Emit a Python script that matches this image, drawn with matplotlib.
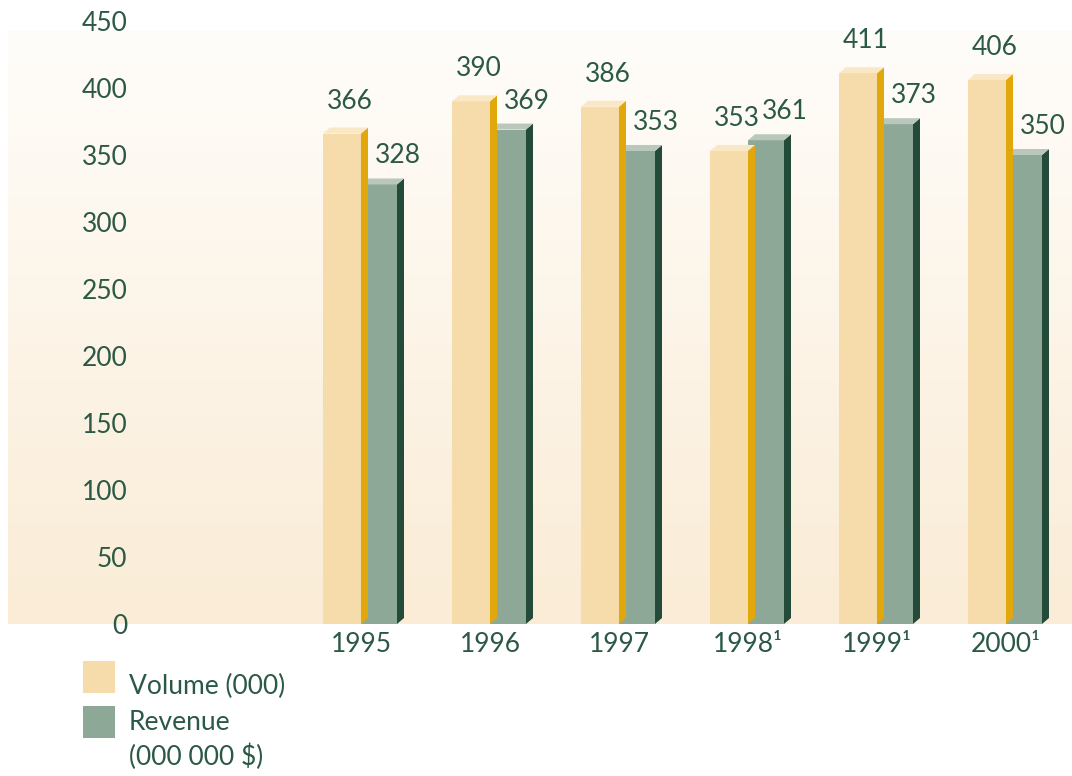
import numpy as np
import matplotlib.pyplot as plt
from matplotlib.patches import Polygon, Rectangle

# Data
years = ['1995', '1996', '1997', '1998¹', '1999¹', '2000¹']
volume = [366, 390, 386, 353, 411, 406]
revenue = [328, 369, 353, 361, 373, 350]
yticks = [0, 50, 100, 150, 200, 250, 300, 350, 400, 450]

TXT = '#2b5945'
VOL = dict(front='#f6dcab', side='#e2a70a', top='#f9e7c6')
REV = dict(front='#8ea898', side='#244b39', top='#b9c7bd')

plt.rcParams['font.family'] = ['Lato', 'DejaVu Sans']

W, H = 1072, 776
fig = plt.figure(figsize=(W / 100, H / 100), dpi=100)
fig.patch.set_facecolor('white')

# axes spans pixel x 8..1072, y 21..624 (0 -> 624, 450 -> 21)
ax = fig.add_axes([8 / W, (H - 624) / H, 1064 / W, 603 / H])
ax.set_facecolor('none')
xmin, xmax = (8 - 361) / 129, (1072 - 361) / 129
ax.set_xlim(xmin, xmax)
ax.set_ylim(0, 450)
for s in ax.spines.values():
    s.set_visible(False)

# soft vertical gradient behind the bars
top_y = (624 - 30) / 603 * 450
grad = np.linspace(0, 1, 256)[:, None, None]
c_top = np.array([255, 253, 250]) / 255
c_bot = np.array([250, 236, 214]) / 255
img = c_bot * (1 - grad) + c_top * grad
img = np.repeat(img, 2, axis=1)
ax.imshow(img, extent=[xmin, xmax, 0, top_y], origin='lower',
          aspect='auto', zorder=0, interpolation='bilinear')

bw_v = 38 / 129
bw_r = 36 / 129
dx = 7 / 129
dy = 6 * 450 / 603


def bar3d(x0, w, h, col, z):
    ax.add_patch(Rectangle((x0, 0), w, h, facecolor=col['front'],
                           edgecolor='none', zorder=z))
    ax.add_patch(Polygon([(x0 + w, 0), (x0 + w + dx, dy), (x0 + w + dx, h + dy),
                          (x0 + w, h)], closed=True, facecolor=col['side'],
                         edgecolor='none', zorder=z))
    ax.add_patch(Polygon([(x0, h), (x0 + dx, h + dy), (x0 + w + dx, h + dy),
                          (x0 + w, h)], closed=True, facecolor=col['top'],
                         edgecolor='none', zorder=z))


x = np.arange(len(years))
for i in x:
    bar3d(i, bw_r, revenue[i], REV, 2)
    bar3d(i - bw_v, bw_v, volume[i], VOL, 3)
    ax.annotate(str(volume[i]), (i - bw_v / 2, volume[i]),
                xytext=(8, 25), textcoords='offset pixels',
                ha='center', va='baseline', fontsize=19, color=TXT, zorder=5)
    ax.annotate(str(revenue[i]), (i + bw_r / 2, revenue[i]),
                xytext=(19, 21), textcoords='offset pixels',
                ha='center', va='baseline', fontsize=19, color=TXT, zorder=5)

ax.set_xticks(x)
ax.set_xticklabels(years, fontsize=19, color=TXT)
ax.set_yticks(yticks)
ax.set_yticklabels([str(v) for v in yticks], fontsize=19, color=TXT)
ax.tick_params(axis='both', length=0)
ax.tick_params(axis='x', pad=6)
ax.tick_params(axis='y', pad=-86)

# legend
for y0, col in [(661, VOL['front']), (706, REV['front'])]:
    fig.add_artist(Rectangle((83 / W, (H - y0 - 32) / H), 32 / W, 32 / H,
                             transform=fig.transFigure, facecolor=col,
                             edgecolor='none'))
fig.text(129 / W, (H - 686) / H, 'Volume (000)', fontsize=19, color=TXT,
         va='center', ha='left')
fig.text(129 / W, (H - 722) / H, 'Revenue', fontsize=19, color=TXT,
         va='center', ha='left')
fig.text(129 / W, (H - 757) / H, '(000 000 $)', fontsize=19, color=TXT,
         va='center', ha='left')

fig.savefig('out.png', dpi=100)
